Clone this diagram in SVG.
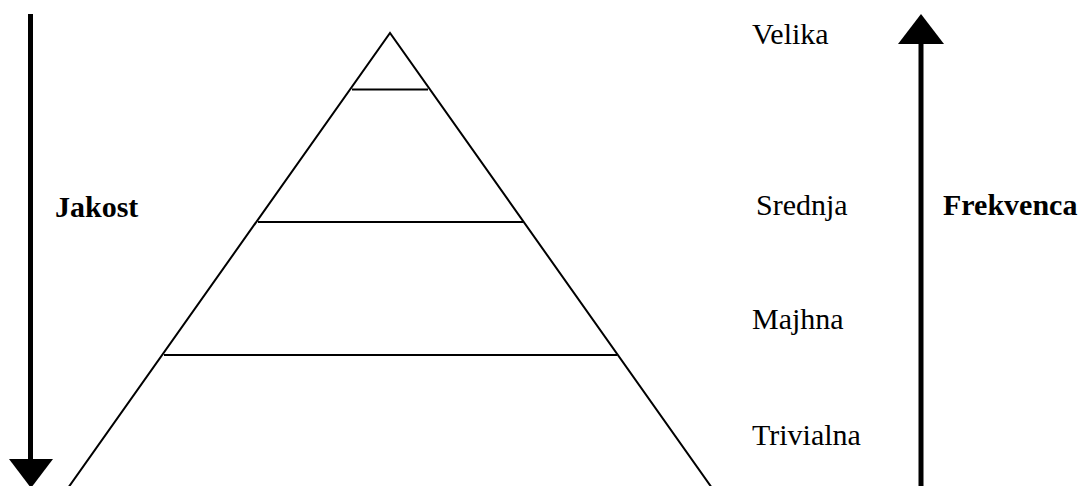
<svg xmlns="http://www.w3.org/2000/svg" width="1087" height="486" viewBox="0 0 1087 486">
<style>
.ln{stroke:#000;stroke-width:2;fill:none}
.ar{stroke:#000;stroke-width:5;fill:none}
.t{font-family:"Liberation Serif","Times New Roman",serif;font-size:30px;fill:#000}
.b{font-weight:bold}
</style>
<rect width="1087" height="486" fill="#fff"/>
<g id="pyramid">
<path class="ln" d="M68,488 L390,33 L712,488"/>
<line class="ln" x1="352" y1="89.5" x2="428" y2="89.5"/>
<line class="ln" x1="258" y1="222" x2="523" y2="222"/>
<line class="ln" x1="164" y1="355" x2="617" y2="355"/>
</g>
<g id="connectors">
<line class="ar" x1="30.5" y1="14" x2="30.5" y2="462"/>
<polygon points="9,459 53,459 31,488" fill="#000"/>
<line class="ar" x1="921" y1="40" x2="921" y2="486"/>
<polygon points="898,44 944,44 921,14" fill="#000"/>
</g>
<g id="labels">
<text class="t" x="752" y="44">Velika</text>
<text class="t" x="756" y="215">Srednja</text>
<text class="t" x="752" y="329">Majhna</text>
<text class="t" x="752" y="445">Trivialna</text>
<text class="t b" x="55" y="217">Jakost</text>
<text class="t b" x="943" y="215">Frekvenca</text>
</g>
</svg>
